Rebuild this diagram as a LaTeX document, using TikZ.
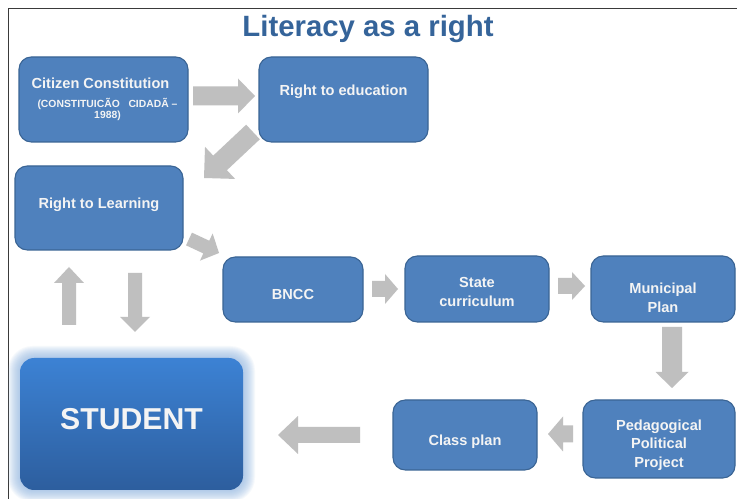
\documentclass[tikz,border=0pt]{standalone}
\usepackage{fontspec}
\setmainfont{Liberation Sans}
\usetikzlibrary{calc,fit}

% one drawing unit (0.02cm) in points
\def\pxu{0.5691pt}

\definecolor{boxblue}{HTML}{4F81BD}
\definecolor{boxedge}{HTML}{3A6494}
\definecolor{arrowgray}{HTML}{BFBFBF}
\definecolor{titleblue}{HTML}{35649A}
\definecolor{boxtext}{HTML}{F4F4F4}
\definecolor{glowblue}{HTML}{8DB4E2}
\definecolor{stutop}{HTML}{3C82D4}
\definecolor{stubot}{HTML}{2D5E9E}
\definecolor{framecol}{HTML}{3A3A3A}

\tikzset{
  stepbox/.style={draw=boxedge, line width=1.1*\pxu, fill=boxblue,
    rounded corners=7pt, inner sep=0pt},
  lbl/.style={text=boxtext, inner sep=0pt, align=center,
    font=\bfseries\fontsize{8.3}{10.5}\selectfont},
  sublbl/.style={text=boxtext, inner sep=0pt, align=center,
    font=\bfseries\fontsize{5.9}{6.3}\selectfont},
  % grey block arrow: shaft half width, head half width, head length (in units)
  garrow/.style n args={3}{fill=arrowgray, draw=none, to path={
    let \p1=(\tikztostart), \p2=(\tikztotarget),
        \n1={atan2(\y2-\y1,\x2-\x1)},
        \n2={veclen(\x2-\x1,\y2-\y1)-#3*\pxu} in
    ($(\p1)+(\n1+90:#1*\pxu)$)
    -- ($(\p1)+(\n1:\n2)+(\n1+90:#1*\pxu)$)
    -- ($(\p1)+(\n1:\n2)+(\n1+90:#2*\pxu)$)
    -- (\p2)
    -- ($(\p1)+(\n1:\n2)+(\n1-90:#2*\pxu)$)
    -- ($(\p1)+(\n1:\n2)+(\n1-90:#1*\pxu)$)
    -- ($(\p1)+(\n1-90:#1*\pxu)$) -- cycle}}
}

\begin{document}
\begin{tikzpicture}[x=0.02cm, y=-0.02cm]
\useasboundingbox (0,0) rectangle (737,499);
\fill[white] (0,0) rectangle (737,499);

% page frame
\draw[framecol, line width=1.3*\pxu] (8.5,499) -- (8.5,8.5) -- (737,8.5);

% heading
\node[text=titleblue, inner sep=0pt, font=\bfseries\fontsize{16.7}{20}\selectfont]
  (ttl) at (368,29) {Literacy as a right};

% boxes
\node[stepbox, fit={(19,57) (188,142)}] (cc) {};
\node[stepbox, fit={(259,57) (428,142)}] (re) {};
\node[stepbox, fit={(15,166) (183,250)}] (rl) {};
\node[stepbox, fit={(223,257) (363,322)}] (bncc) {};
\node[stepbox, fit={(405,256) (549,322)}] (sc) {};
\node[stepbox, fit={(591,256) (735,322)}] (mp) {};
\node[stepbox, fit={(583,400) (735,478)}] (ppp) {};
\node[stepbox, fit={(393,400) (537,470)}] (cp) {};

% student box with soft glow
\foreach \g in {1,...,12}
  \fill[glowblue, opacity=0.08, rounded corners={(8+\g*0.5)*1pt}]
    (20-\g,358-\g) rectangle (243+\g,490+\g);
\node[fit={(20,358) (243,490)}, inner sep=0pt, rounded corners=8pt,
  top color=stutop, bottom color=stubot] (st) {};

% box texts
\node[lbl] (cc-t) at ($(cc.center)+(-3,-16)$) {Citizen Constitution};
\node[sublbl] (cc-s) at ($(cc.center)+(4,10)$) {(CONSTITUICÃO\ \ \ CIDADÃ --\\1988)};
\node[lbl] (re-t) at ($(re.center)+(0,-8)$) {Right to education};
\node[lbl] (rl-t) at ($(rl.center)+(0,-3)$) {Right to Learning};
\node[lbl] (bncc-t) at ($(bncc.center)+(0,5)$) {BNCC};
\node[lbl] (sc-t) at ($(sc.center)+(0,3)$) {State\\curriculum};
\node[lbl] (mp-t) at ($(mp.center)+(0,9)$) {Municipal\\Plan};
\node[lbl] (ppp-t) at ($(ppp.center)+(0,6)$) {Pedagogical\\Political\\Project};
\node[lbl] (cp-t) at ($(cp.center)+(0,7)$) {Class plan};
\node[text=boxtext, inner sep=0pt, font=\bfseries\fontsize{17.2}{20}\selectfont]
  (st-t) at ($(st.center)+(0,-5)$) {STUDENT};

% arrow end points
\coordinate (a1s) at (193,96);  \coordinate (a1e) at (255,96);
\coordinate (a2s) at (253,132); \coordinate (a2e) at (204,178);
\coordinate (a3s) at (189,239); \coordinate (a3e) at (219,253);
\coordinate (a4s) at (69,325);  \coordinate (a4e) at (69,267);
\coordinate (a5s) at (135,273); \coordinate (a5e) at (135,332);
\coordinate (a6s) at (372,289); \coordinate (a6e) at (398,289);
\coordinate (a7s) at (558,286); \coordinate (a7e) at (585,286);
\coordinate (a8s) at (672,327); \coordinate (a8e) at (672,388);
\coordinate (a9s) at (573,434); \coordinate (a9e) at (548,434);
\coordinate (a10s) at (360,435); \coordinate (a10e) at (278,435);

% block arrows
\path[garrow={9.5}{17.5}{17}] (a1s) to (a1e);
\path[garrow={10}{22}{22}] (a2s) to (a2e);
\path[garrow={7}{15}{14}] (a3s) to (a3e);
\path[garrow={7}{15}{16}] (a4s) to (a4e);
\path[garrow={7}{15}{15}] (a5s) to (a5e);
\path[garrow={8}{15}{13}] (a6s) to (a6e);
\path[garrow={8}{14}{13}] (a7s) to (a7e);
\path[garrow={10}{16.5}{16}] (a8s) to (a8e);
\path[garrow={8.5}{17.5}{15}] (a9s) to (a9e);
\path[garrow={8}{19}{20}] (a10s) to (a10e);
\end{tikzpicture}
\end{document}
